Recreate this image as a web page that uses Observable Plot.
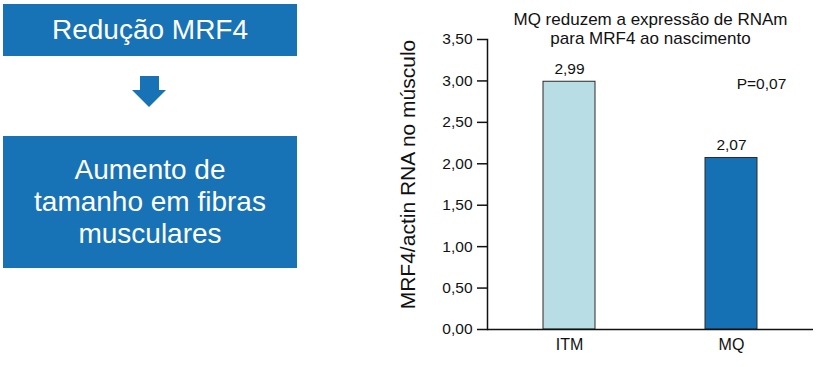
<!DOCTYPE html>
<html>
<head>
<meta charset="utf-8">
<script src="https://cdn.jsdelivr.net/npm/d3@7"></script>
<script src="https://cdn.jsdelivr.net/npm/@observablehq/plot@0.6"></script>
<style>
  html, body { margin: 0; padding: 0; background: #fff; }
  #wrap { position: relative; width: 820px; height: 367px; font-family: "Liberation Sans", Arial, Helvetica, sans-serif; overflow: hidden; }
  #chart { position: absolute; left: 0; top: 0; }
  .box { position: absolute; left: 3px; width: 294px; background: #1872b6; color: #fff;
         display: flex; align-items: center; justify-content: center; text-align: center;
         font-size: 28px; }
  #box1 { top: 4px; height: 52px; }
  #box2 { top: 136px; height: 132px; line-height: 32px; }
  #shaft { position: absolute; left: 140px; top: 76px; width: 19px; height: 15px; background: #1872b6; }
  #head { position: absolute; left: 132px; top: 90px; width: 0; height: 0;
          border-left: 17.5px solid transparent; border-right: 17.5px solid transparent; border-top: 17px solid #1872b6; }
</style>
</head>
<body>
<div id="wrap">
  <div id="chart"></div>
  <div class="box" id="box1"></div>
  <div id="shaft"></div>
  <div id="head"></div>
  <div class="box" id="box2"></div>
</div>
<script>
// ---- data ----
const boxTexts = ["Redução MRF4", "Aumento de<br>tamanho em fibras<br>musculares"];
const categories = ["ITM", "MQ"];
const values = [2.99, 2.07];
const yTicks = [0, 0.5, 1, 1.5, 2, 2.5, 3, 3.5];
const titleLines = ["MQ reduzem a expressão de RNAm", "para MRF4 ao nascimento"];
const yLabel = "MRF4/actin RNA no músculo";
const pText = ["P=0,07"];
const pPos = {cat: "MQ", value: 2.96};
const barColors = ["#b9dde4", "#1670b4"];

document.getElementById("box1").innerHTML = boxTexts[0];
document.getElementById("box2").innerHTML = boxTexts[1];

const data = categories.map((c, i) => ({cat: c, value: values[i]}));
const fmt = v => v.toFixed(2).replace(".", ",");
const font = "Liberation Sans, Arial, Helvetica, sans-serif";

const chart = Plot.plot({
  width: 820,
  height: 367,
  marginLeft: 487,
  marginRight: 7,
  marginTop: 39,
  marginBottom: 38,
  style: {fontFamily: font, color: "#111", background: "transparent"},
  x: {type: "band", domain: categories, paddingInner: 0.68, paddingOuter: 0.343, align: 0.5},
  y: {domain: [0, 3.5]},
  color: {domain: categories, range: barColors},
  marks: [
    Plot.barY(data, {x: "cat", y: "value", fill: "cat", stroke: "#2a2a2a", strokeWidth: 1}),
    Plot.ruleY([0], {stroke: "#111", strokeWidth: 1.5}),
    Plot.frame({anchor: "left", stroke: "#111", strokeWidth: 1.5}),
    Plot.axisY({ticks: yTicks, tickSize: 10, tickPadding: 5, tickFormat: fmt, fontSize: 15.5, stroke: "#111", strokeWidth: 1.5, label: null}),
    Plot.axisX({tickSize: 0, tickPadding: 9, fontSize: 16, label: null}),
    Plot.text(data, {x: "cat", y: "value", text: d => fmt(d.value), dy: -8, lineAnchor: "bottom", fontSize: 15.5, fill: "#111"}),
    Plot.text(pText, {x: () => pPos.cat, y: () => pPos.value, text: d => d, dx: 30, fontSize: 15.5, fill: "#111"}),
    Plot.text([titleLines[0]], {frameAnchor: "top", text: d => d, dy: -20, lineAnchor: "middle", fontSize: 17, fill: "#111"}),
    Plot.text([titleLines[1]], {frameAnchor: "top", text: d => d, dy: -1, lineAnchor: "middle", fontSize: 17, fill: "#111"}),
    Plot.text([yLabel], {frameAnchor: "left", text: d => d, rotate: -90, dx: -79, dy: -10, textAnchor: "middle", lineAnchor: "middle", fontSize: 21, fill: "#111"})
  ]
});
document.getElementById("chart").appendChild(chart);
</script>
</body>
</html>
